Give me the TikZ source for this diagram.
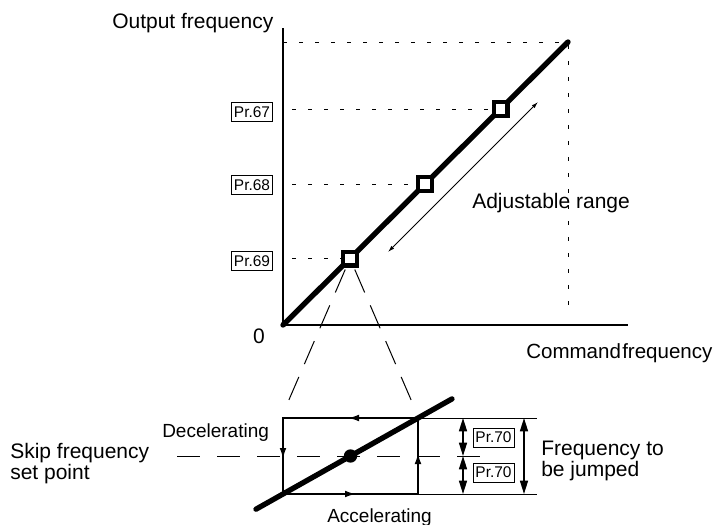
\documentclass[tikz,border=0pt]{standalone}
\usepackage{fontspec}
\setmainfont{Liberation Sans}
\usetikzlibrary{arrows.meta}
\begin{document}
\begin{tikzpicture}[x=0.75pt,y=-0.75pt,
  lbl/.style={font=\fontsize{15.75}{19}\selectfont, inner sep=0pt, anchor=base west},
  slbl/.style={font=\fontsize{14.25}{17}\selectfont, inner sep=0pt, anchor=base west},
  prbox/.style={draw, line width=0.75pt, font=\fontsize{11.6}{13}\selectfont, minimum width=30.75pt, minimum height=14.25pt, inner sep=0pt},
  sq/.style={draw, line width=3.3pt, fill=white, minimum size=10.2pt, inner sep=0pt},
  axis/.style={line width=2.2pt},
  dsh/.style={line width=0.75pt, dash pattern=on 3pt off 9pt},
  zoomln/.style={line width=0.75pt, dash pattern=on 18.75pt off 10.5pt, dash phase=20.25pt},
  skipln/.style={line width=0.75pt, dash pattern=on 17.25pt off 12.75pt},
  rectln/.style={line width=1.8pt},
  rarr/.style={line width=1.8pt, -{Latex[length=9pt,width=5pt]}},
  dimarr/.style={line width=1.1pt, {Triangle[length=10pt,width=6pt]}-{Triangle[length=10pt,width=6pt]}},
  thin/.style={line width=0.75pt},
  thick line/.style={line width=4pt, line cap=round}
]
\useasboundingbox (0,0) rectangle (715,525);

% ---------- upper graph ----------
\coordinate (O) at (283,325);
\coordinate (Ytop) at (283,28);
\coordinate (Xend) at (628,325);
\coordinate (Pend) at (568,42);
\coordinate (Pfoot) at (568,313);
\coordinate (Yhi) at (283,42);
\coordinate (dA) at (292,0);

\draw[dsh] (Yhi) -- (Pend) -- (Pfoot);
\draw[axis] (Ytop) -- (O) -- (Xend);

\node[prbox] (pr67) at (252,112) {Pr.67};
\node[prbox] (pr68) at (252,185) {Pr.68};
\node[prbox] (pr69) at (252,261) {Pr.69};

\coordinate (s67c) at (500.5,109);
\coordinate (s68c) at (425,184);
\coordinate (s69c) at (350,258.5);

\draw[dsh] (s67c -| dA) -- (s67c);
\draw[dsh] (s68c -| dA) -- (s68c);
\draw[dsh] (s69c -| dA) -- (s69c);

% zoom lines
\coordinate (zl) at (288,402);
\coordinate (zr) at (412,402);
\draw[zoomln] (s69c) -- (zl);
\draw[zoomln] (s69c) -- (zr);

\draw[thick line] (O) -- (Pend);

\node[sq] (s67) at (s67c) {};
\node[sq] (s68) at (s68c) {};
\node[sq] (s69) at (s69c) {};

\coordinate (ar1) at (388,252);
\coordinate (ar2) at (538,102);
\draw[thin, {Latex[length=5pt,width=3pt]}-{Latex[length=5pt,width=3pt]}] (ar1) -- (ar2);

\node[lbl] (outf) at (112,28) {Output frequency};
\node[lbl, anchor=base] (zero) at (259,343) {0};
\node[lbl, font=\fontsize{15.4}{19}\selectfont] (cmdf) at (526,358) {Command\kern1pt frequency};
\node[lbl] (adj) at (472,208) {Adjustable range};

% ---------- lower detail ----------
\coordinate (BL) at (283,494);
\coordinate (TR) at (418,418);
\coordinate (TL) at (283,418);
\coordinate (BR) at (418,494);

\coordinate (sk1) at (177,456);
\coordinate (sk2) at (480,456);
\draw[skipln] (sk1) -- (sk2);

\draw[rectln] (BL) rectangle (TR);
\draw[rarr] (362,418) -- (347,418);
\draw[rarr] (283,445) -- (283,460);
\draw[rarr] (418,467) -- (418,452);
\draw[rarr] (342,494) -- (357,494);

\coordinate (tl1) at (256,509.2);
\coordinate (tl2) at (452,398.9);
\draw[thick line] (tl1) -- (tl2);
\fill (350.5,456) circle (5pt);

\coordinate (h1) at (537,418);
\coordinate (h2) at (537,494);
\draw[thin] (TR) -- (h1);
\draw[thin] (BR) -- (h2);

\draw[dimarr] (463,418) -- (463,456);
\draw[dimarr] (463,456) -- (463,494);
\draw[dimarr] (524,418) -- (524,494);

\node[prbox] (pr70a) at (493.5,437.5) {Pr.70};
\node[prbox] (pr70b) at (493.5,472.5) {Pr.70};

\node[slbl] (dec) at (162,437) {Decelerating};
\node[slbl] (acc) at (327,522) {Accelerating};
\node[lbl] (skip1) at (10,458) {Skip frequency};
\node[lbl] (skip2) at (10,479) {set point};
\node[lbl] (fj1) at (541,455) {Frequency to};
\node[lbl] (fj2) at (541,476) {be jumped};
\end{tikzpicture}
\end{document}
